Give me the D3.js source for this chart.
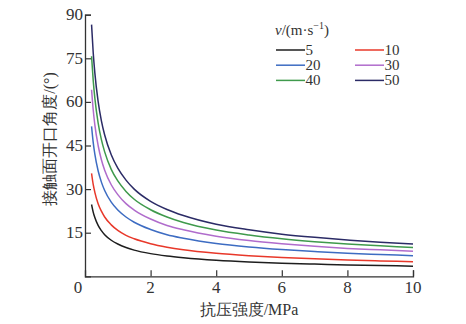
<!DOCTYPE html>
<html>
<head>
<meta charset="utf-8">
<script src="https://cdn.jsdelivr.net/npm/d3@7"></script>
<style>
  html, body { margin: 0; padding: 0; background: #fff; }
  svg { display: block; }
</style>
</head>
<body>
<svg id="chart" width="466" height="324"></svg>
<script>
// Compressive strength (MPa) sample points
const strength = [0.2, 0.25, 0.3, 0.4, 0.5, 0.6, 0.8, 1, 1.25, 1.5, 2, 2.5, 3, 4, 5, 6, 7, 8, 9, 10];

// Opening angle of the contact surface (°) for each impact velocity
const v5  = [24.7, 22.1, 20.2, 17.5, 15.7, 14.3, 12.4, 11.1, 9.9, 9.0, 7.8, 7.0, 6.4, 5.5, 4.9, 4.5, 4.2, 3.9, 3.7, 3.5];
const v10 = [35.4, 31.6, 28.9, 25.0, 22.4, 20.4, 17.7, 15.8, 14.1, 12.9, 11.2, 10.0, 9.1, 7.9, 7.1, 6.5, 6.0, 5.6, 5.3, 5.0];
const v20 = [51.6, 46.1, 42.0, 36.3, 32.4, 29.5, 25.5, 22.8, 20.4, 18.6, 16.1, 14.3, 13.1, 11.3, 10.1, 9.2, 8.5, 7.9, 7.5, 7.1];
const v30 = [64.2, 57.3, 52.1, 45.0, 40.1, 36.5, 31.5, 28.1, 25.0, 22.8, 19.7, 17.5, 16.0, 13.8, 12.3, 11.2, 10.3, 9.6, 9.1, 8.6];
const v40 = [75.7, 67.4, 61.3, 52.8, 47.0, 42.8, 36.8, 32.8, 29.2, 26.5, 22.9, 20.4, 18.5, 15.9, 14.2, 12.9, 11.9, 11.1, 10.5, 9.9];
const v50 = [86.6, 77.0, 70.0, 60.2, 53.5, 48.6, 41.8, 37.2, 33.1, 30.0, 25.8, 23.0, 20.9, 17.9, 16.0, 14.5, 13.4, 12.5, 11.7, 11.1];

const velocityLabels = ["5", "10", "20", "30", "40", "50"];
const seriesValues = [v5, v10, v20, v30, v40, v50];
const seriesColors = ["#1e1e1e", "#e8382a", "#3d6cc2", "#b06ccc", "#3f9a4c", "#2b2b66"];

const xTicks = [2, 4, 6, 8, 10];
const yTicks = [15, 30, 45, 60, 75, 90];

const SERIF = "Liberation Serif";

const svg = d3.select("#chart");
const plotLeft = 85, plotRight = 413, plotTop = 14.7, plotBottom = 276.3;

const x = d3.scaleLinear().domain([0, 10]).range([plotLeft, plotRight]);
const y = d3.scaleLinear().domain([0, 90]).range([plotBottom, plotTop]);

// Axes: ticks point into the plot
const xAxis = svg.append("g")
  .attr("transform", `translate(0,${plotBottom})`)
  .call(d3.axisTop(x).tickValues(xTicks).tickSize(6).tickFormat(""));
const yAxis = svg.append("g")
  .attr("transform", `translate(${plotLeft},0)`)
  .call(d3.axisRight(y).tickValues(yTicks).tickSize(6).tickFormat(""));

[xAxis, yAxis].forEach(g => {
  g.select(".domain").attr("stroke", "#333").attr("stroke-width", 1.3);
  g.selectAll(".tick line").attr("stroke", "#333").attr("stroke-width", 1.2);
});

// Tick labels
svg.append("g").selectAll("text").data(xTicks).join("text")
  .style("font-family", SERIF)
  .attr("x", d => x(d)).attr("y", plotBottom + 17)
  .attr("text-anchor", "middle")
  .attr("font-size", 17).attr("fill", "#333")
  .text(d => d);
svg.append("text").style("font-family", SERIF)
  .attr("x", x(0) - 7).attr("y", plotBottom + 17)
  .attr("text-anchor", "middle").attr("font-size", 17).attr("fill", "#333")
  .text("0");
svg.append("g").selectAll("text").data(yTicks).join("text")
  .style("font-family", SERIF)
  .attr("x", plotLeft - 2).attr("y", d => y(d) + 5.5)
  .attr("text-anchor", "end")
  .attr("font-size", 17).attr("fill", "#333")
  .text(d => d);

// Axis titles
svg.append("text").style("font-family", SERIF)
  .attr("x", 249).attr("y", 315)
  .attr("text-anchor", "middle").attr("font-size", 16).attr("fill", "#333")
  .text("抗压强度/MPa");
svg.append("text").style("font-family", SERIF)
  .attr("transform", `translate(55,139) rotate(-90)`)
  .attr("text-anchor", "middle").attr("font-size", 16).attr("fill", "#333")
  .text("接触面开口角度/(°)");

// Curves
const line = d3.line()
  .x((d, i) => x(strength[i]))
  .y(d => y(d))
  .curve(d3.curveMonotoneX);

svg.append("g").selectAll("path").data(seriesValues).join("path")
  .attr("d", d => line(d))
  .attr("fill", "none")
  .attr("stroke", (d, i) => seriesColors[i])
  .attr("stroke-width", 1.5);

// Legend
const legend = svg.append("g");
const title = legend.append("text").style("font-family", SERIF)
  .attr("x", 275).attr("y", 35).attr("font-size", 15).attr("fill", "#333");
title.append("tspan").attr("font-style", "italic").text("v");
title.append("tspan").text("/(m\u00b7s");
title.append("tspan").attr("font-size", 10).attr("dy", -6).text("\u22121");
title.append("tspan").attr("dy", 6).text(")");

const legendItems = legend.selectAll("g.item").data(velocityLabels).join("g")
  .attr("class", "item")
  .attr("transform", (d, i) => `translate(${i % 2 === 0 ? 276 : 355},${50 + Math.floor(i / 2) * 15.2})`);
legendItems.append("line")
  .attr("x1", 0).attr("x2", 29).attr("y1", 0).attr("y2", 0)
  .attr("stroke", (d, i) => seriesColors[i]).attr("stroke-width", 1.5);
legendItems.append("text").style("font-family", SERIF)
  .attr("x", 29.5).attr("y", 5).attr("font-size", 15).attr("fill", "#333")
  .text(d => d);
</script>
</body>
</html>
